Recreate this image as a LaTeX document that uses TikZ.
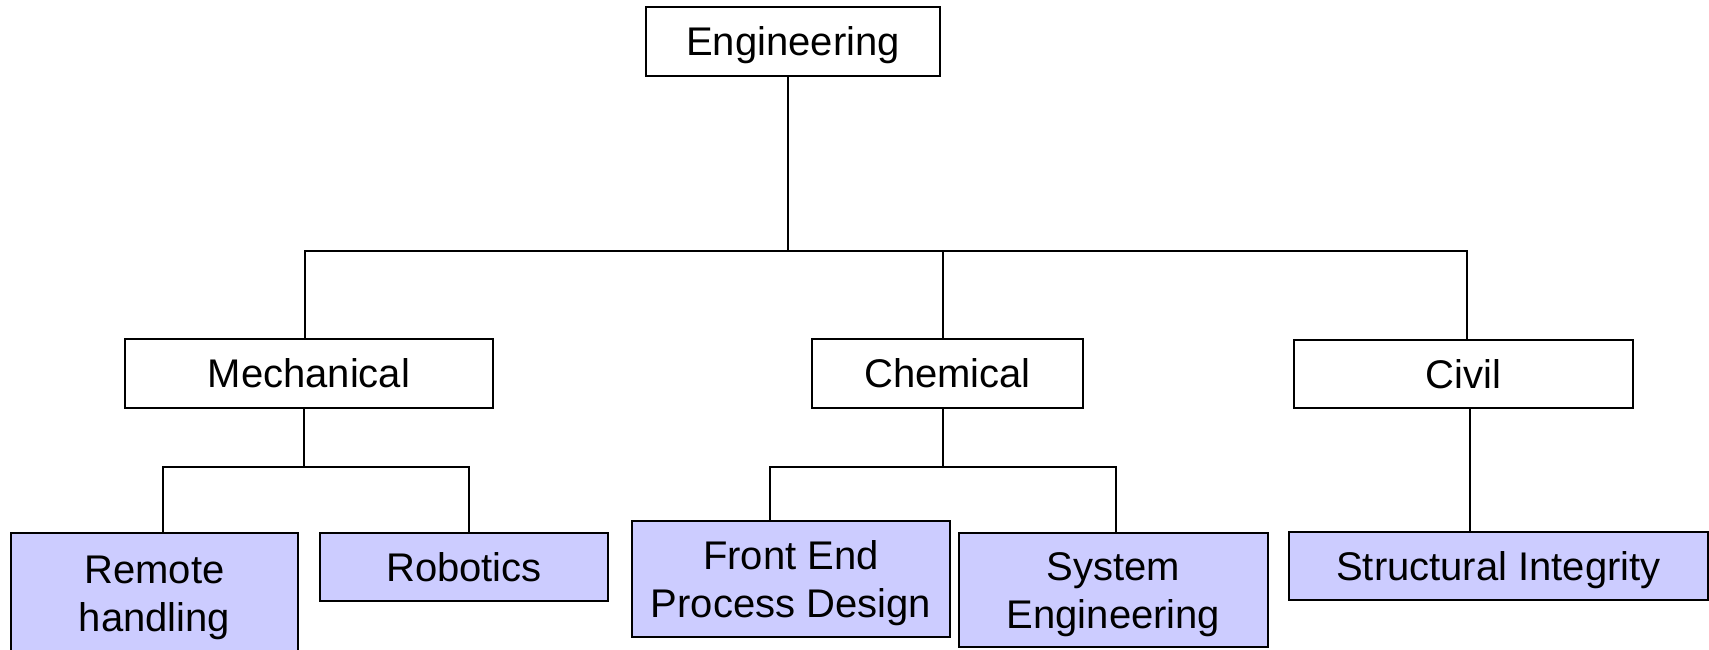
\documentclass[tikz,border=0pt]{standalone}
\usepackage{fontspec}
\setmainfont{Liberation Sans}
\begin{document}
\begin{tikzpicture}[x=1pt,y=-1pt,
  every node/.style={font=\fontsize{40}{48}\selectfont},
  oneline/.style={text height=28.8pt, text depth=0pt},
  twoline/.style={text height=76.8pt, text depth=0pt},
  plainbox/.style={draw=black, line width=2.5pt, fill=white, inner sep=0pt, align=center, oneline},
  leafbox/.style={draw=black, line width=2.5pt, fill=leaf, inner sep=0pt, align=center},
  link/.style={draw=black, line width=2.5pt}]
\definecolor{leaf}{HTML}{CCCCFF}
\useasboundingbox (0,0) rectangle (1709,649);
% top level
\node[plainbox, minimum width=294pt, minimum height=69pt] (eng) at (793,41.5) {Engineering};
% second level
\node[plainbox, minimum width=368pt, minimum height=69pt] (mech) at (309,373.5) {Mechanical};
\node[plainbox, minimum width=271pt, minimum height=69pt] (chem) at (947.5,373.5) {Chemical};
\node[plainbox, minimum width=339pt, minimum height=68pt] (civil) at (1463.5,374) {Civil};
% leaves
\node[leafbox, twoline, minimum width=287pt, minimum height=120pt] (remote) at (154.5,593) {Remote\\handling};
\node[leafbox, oneline, minimum width=288pt, minimum height=68pt] (robot) at (464,567) {Robotics};
\node[leafbox, twoline, minimum width=318pt, minimum height=116pt] (front) at (791,579) {Front End\\Process Design};
\node[leafbox, twoline, minimum width=309pt, minimum height=114pt] (sys) at (1113.5,590) {System\\Engineering};
\node[leafbox, oneline, minimum width=419pt, minimum height=68pt] (struct) at (1498.5,566) {Structural Integrity};
% junction coordinates
\coordinate (ej) at (788,251);
\coordinate (bl) at (305,251);
\coordinate (br) at (1467,251);
\coordinate (cj) at (943,251);
\coordinate (mj) at (304,467);
\coordinate (ml) at (163,467);
\coordinate (mr) at (469,467);
\coordinate (chj) at (943,467);
\coordinate (cl) at (770,467);
\coordinate (cr) at (1116,467);
\coordinate (vj) at (1470,408);
% connectors
\draw[link] (eng.south -| ej) -- (ej);
\draw[link] (mech.north -| bl) -- (bl) -- (br) -- (civil.north -| br);
\draw[link] (chem.north -| cj) -- (cj);
\draw[link] (mech.south -| mj) -- (mj);
\draw[link] (remote.north -| ml) -- (ml) -- (mr) -- (robot.north -| mr);
\draw[link] (chem.south -| chj) -- (chj);
\draw[link] (front.north -| cl) -- (cl) -- (cr) -- (sys.north -| cr);
\draw[link] (civil.south -| vj) -- (struct.north -| vj);
\end{tikzpicture}
\end{document}
